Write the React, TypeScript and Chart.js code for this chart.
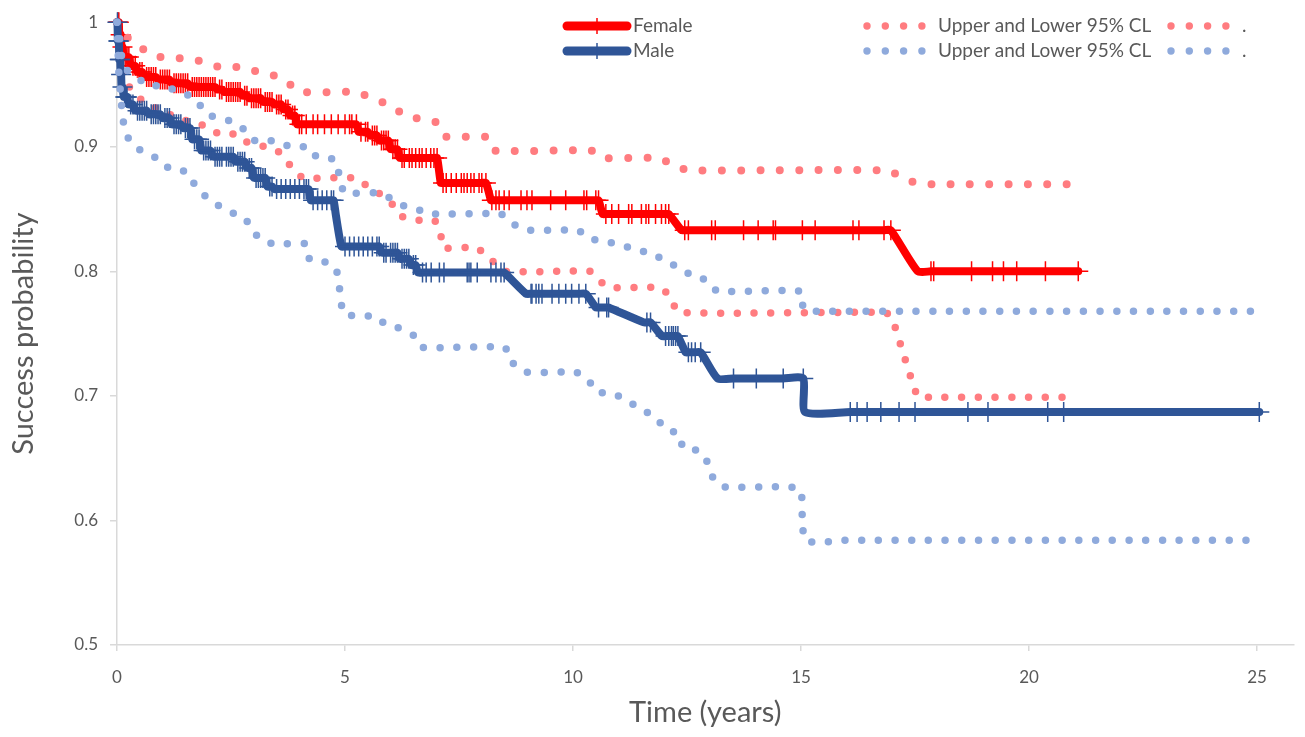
import React, { useEffect, useRef } from "react";
import { Chart, registerables } from "chart.js";

Chart.register(...registerables);

// ---------- DATA ----------
// Kaplan-Meier step nodes (time in years, survival after event)
const femaleEventT = [0, 0.05, 0.1, 0.15, 0.3, 0.45, 0.6, 0.9, 1.2, 1.6, 2.2, 2.35, 2.75, 2.9, 3.2, 3.45, 3.65, 3.8, 3.95, 5.3, 5.55, 5.75, 6.0, 6.2, 7.1, 8.2, 10.65, 12.38, 17.56];
const femaleEventS = [1.0, 0.99, 0.98, 0.972, 0.965, 0.96, 0.956, 0.954, 0.951, 0.948, 0.946, 0.944, 0.941, 0.939, 0.936, 0.934, 0.93, 0.925, 0.918, 0.912, 0.909, 0.905, 0.898, 0.891, 0.871, 0.857, 0.846, 0.833, 0.8];
const femaleCensorT = [
  0.02, 0.04, 0.08, 0.12, 0.18, 0.22, 0.26, 0.35, 0.4, 0.5, 0.55, 0.65, 0.7, 0.75, 0.8, 0.85, 0.95, 1.0, 1.05, 1.1, 1.15, 1.25, 1.3, 1.35, 1.4, 1.45, 1.5, 1.55,
  1.65, 1.7, 1.75, 1.8, 1.85, 1.9, 1.95, 2.0, 2.05, 2.1, 2.15, 2.25, 2.3, 2.4, 2.45, 2.5, 2.55, 2.6, 2.65, 2.7, 2.8, 2.85, 2.95, 3.0, 3.05, 3.1, 3.15, 3.25,
  3.3, 3.35, 3.4, 3.5, 3.55, 3.6, 3.7, 3.75, 3.85, 3.9, 4.0, 4.05, 4.15, 4.3, 4.4, 4.55, 4.7, 4.85, 5.0, 5.1, 5.15, 5.25, 5.35, 5.45, 5.5, 5.6, 5.65, 5.7,
  5.8, 5.85, 5.9, 5.95, 6.05, 6.1, 6.15, 6.25, 6.3, 6.41, 6.47, 6.55, 6.63, 6.69, 6.78, 6.88, 6.95, 7.02,
  7.15, 7.22, 7.33, 7.44, 7.55, 7.61, 7.68, 7.76, 7.83, 7.94, 8.0, 8.09,
  8.22, 8.31, 8.38, 8.49, 8.6, 8.86, 8.99, 9.1, 9.51, 9.84, 10.24, 10.3, 10.5, 10.56,
  10.72, 10.85, 11.0, 11.22, 11.29, 11.5, 11.6, 11.66, 11.81, 11.94, 12.03, 12.1,
  12.45, 12.53, 13.04, 13.12, 13.74, 14.06, 14.39, 14.44, 15.03, 15.31, 16.14, 16.27, 16.82, 16.97,
  17.85, 17.91, 18.74, 19.2, 19.44, 19.73, 20.36, 21.08,
];

const maleEventT = [0, 0.02, 0.05, 0.08, 0.1, 0.15, 0.25, 0.4, 0.7, 1.0, 1.2, 1.45, 1.65, 1.85, 2.1, 2.6, 2.85, 3.0, 3.3, 3.45, 4.25, 4.8, 4.92, 5.8, 6.2, 6.45, 6.6, 8.97, 10.5, 11.55, 11.95, 12.47, 13.17, 15.09];
const maleEventS = [1.0, 0.985, 0.97, 0.958, 0.948, 0.94, 0.934, 0.929, 0.926, 0.923, 0.918, 0.915, 0.906, 0.897, 0.892, 0.888, 0.883, 0.875, 0.868, 0.866, 0.857, 0.845, 0.82, 0.815, 0.81, 0.805, 0.799, 0.782, 0.771, 0.759, 0.748, 0.735, 0.714, 0.687];
const maleCensorT = [
  0.01, 0.03, 0.04, 0.06, 0.07, 0.09, 0.12, 0.18, 0.2, 0.22, 0.3, 0.35, 0.45, 0.5, 0.55, 0.6, 0.65, 0.75, 0.8, 0.85, 0.9, 0.95, 1.05, 1.1, 1.15, 1.25, 1.3,
  1.35, 1.4, 1.5, 1.55, 1.6, 1.7, 1.75, 1.8, 1.9, 1.95, 2.0, 2.05, 2.15, 2.2, 2.25, 2.3, 2.4, 2.45, 2.5, 2.55, 2.65, 2.7, 2.75, 2.8, 2.9, 2.95, 3.05, 3.1,
  3.15, 3.2, 3.25, 3.35, 3.4, 3.5, 3.6, 3.7, 3.8, 3.9, 4.0, 4.1, 4.15, 4.2, 4.3, 4.4, 4.5, 4.6, 4.7, 4.75,
  5.0, 5.1, 5.2, 5.3, 5.4, 5.5, 5.6, 5.7, 5.75, 5.85, 5.9, 6.0, 6.05, 6.1, 6.15, 6.25, 6.3, 6.35, 6.4, 6.5, 6.55,
  6.7, 6.78, 6.89, 7.07, 7.17, 7.68, 7.72, 7.76, 7.9, 8.2, 8.31, 8.42, 8.49,
  9.08, 9.1, 9.19, 9.25, 9.32, 9.54, 9.69, 9.84, 9.97, 10.13, 10.28,
  10.56, 10.74, 10.78, 11.62, 11.7, 12.03, 12.1, 12.16, 12.2, 12.25, 12.3, 12.53, 12.6, 12.68, 12.8,
  13.52, 14.02, 14.61, 15.05, 16.08, 16.23, 16.45, 16.75, 17.15, 17.5, 18.66, 19.1, 20.41, 20.76, 25.05,
];

// 95% confidence limits
const femaleUpperT = [0, 0.15, 0.46, 0.72, 1.12, 1.55, 1.9, 2.25, 2.67, 3.0, 3.38, 3.7, 4.0, 5.25, 5.64, 6.04, 6.3, 6.69, 7.05, 7.22, 8.07, 8.22, 10.4, 10.63, 11.9, 12.23, 12.62, 16.9, 17.3, 17.6, 18.0, 21.0];
const femaleUpperS = [1.0, 0.99, 0.982, 0.974, 0.971, 0.971, 0.968, 0.964, 0.964, 0.961, 0.958, 0.953, 0.944, 0.944, 0.938, 0.933, 0.925, 0.922, 0.919, 0.908, 0.908, 0.897, 0.897, 0.891, 0.891, 0.884, 0.881, 0.881, 0.874, 0.87, 0.87, 0.87];
const femaleLowerT = [0, 0.08, 0.2, 0.45, 0.9, 1.42, 2.0, 2.25, 2.63, 2.84, 3.13, 3.46, 3.67, 3.85, 4.09, 5.23, 5.5, 5.82, 6.06, 6.26, 6.59, 6.96, 7.1, 7.14, 7.88, 8.12, 8.53, 10.37, 10.59, 10.8, 11.92, 12.14, 12.31, 16.85, 17.0, 17.56, 17.8, 20.93];
const femaleLowerS = [1.0, 0.97, 0.952, 0.94, 0.93, 0.922, 0.916, 0.91, 0.91, 0.904, 0.901, 0.898, 0.892, 0.882, 0.875, 0.875, 0.868, 0.861, 0.853, 0.844, 0.841, 0.841, 0.83, 0.819, 0.819, 0.812, 0.8, 0.8, 0.792, 0.787, 0.787, 0.779, 0.767, 0.767, 0.762, 0.699, 0.699, 0.699];
const maleUpperT = [0, 0.07, 0.1, 0.21, 0.43, 0.69, 1.04, 1.34, 1.66, 1.85, 2.05, 2.38, 2.65, 2.84, 3.02, 3.37, 3.7, 4.06, 4.22, 4.55, 4.81, 4.88, 4.99, 5.73, 6.04, 6.32, 6.65, 6.96, 8.42, 8.68, 9.01, 10.1, 10.39, 10.72, 11.07, 11.42, 11.77, 12.05, 12.36, 12.62, 12.93, 13.17, 15.0, 15.05, 15.35, 24.95];
const maleUpperS = [1.0, 0.985, 0.973, 0.962, 0.956, 0.949, 0.949, 0.944, 0.94, 0.932, 0.925, 0.922, 0.918, 0.912, 0.905, 0.905, 0.901, 0.901, 0.893, 0.893, 0.888, 0.875, 0.863, 0.863, 0.858, 0.852, 0.849, 0.846, 0.846, 0.838, 0.833, 0.833, 0.826, 0.824, 0.821, 0.817, 0.814, 0.807, 0.803, 0.796, 0.793, 0.784, 0.784, 0.77, 0.768, 0.768];
const maleLowerT = [0, 0.04, 0.07, 0.1, 0.14, 0.21, 0.41, 0.65, 0.94, 1.16, 1.51, 1.68, 1.87, 2.05, 2.34, 2.58, 2.82, 2.96, 3.15, 3.42, 4.14, 4.22, 4.53, 4.79, 4.86, 4.9, 4.97, 5.3, 5.66, 5.9, 6.23, 6.52, 6.69, 8.5, 8.66, 8.97, 10.06, 10.33, 10.52, 10.87, 11.2, 11.5, 11.81, 12.03, 12.31, 12.42, 12.75, 12.93, 13.06, 13.28, 14.74, 15.0, 15.03, 15.09, 15.44, 15.81, 25.0];
const maleLowerS = [1.0, 0.96, 0.946, 0.933, 0.92, 0.909, 0.9, 0.894, 0.89, 0.882, 0.88, 0.871, 0.863, 0.856, 0.851, 0.846, 0.842, 0.833, 0.826, 0.822, 0.822, 0.81, 0.808, 0.803, 0.793, 0.779, 0.766, 0.764, 0.764, 0.757, 0.754, 0.748, 0.739, 0.739, 0.727, 0.719, 0.719, 0.713, 0.703, 0.702, 0.696, 0.689, 0.683, 0.673, 0.67, 0.658, 0.656, 0.648, 0.635, 0.627, 0.627, 0.624, 0.597, 0.584, 0.582, 0.584, 0.584];

const xTickStep = 5;
const yTickStep = 0.1;
const xMax = 25.8;
const yMin = 0.5;
const yMax = 1;

const labels = {
  female: "Female",
  male: "Male",
  upper: "Upper and Lower 95% CL",
  lower: ".",
  xTitle: "Time (years)",
  yTitle: "Success probability",
};

// ---------- STYLE ----------
const RED = "#FF0000";
const BLUE = "#2F5597";
const RED_CL = "#FF7C80";
const BLUE_CL = "#8FAADC";
const TEXT = "#595959";
const AXIS = "#D9D9D9";
const FONT = "Lato, 'Open Sans', sans-serif";

type Pt = { x: number; y: number; c: boolean };

function buildKM(eventT: number[], eventS: number[], censorT: number[]): Pt[] {
  const pts: Pt[] = eventT.map((t, i) => ({ x: t, y: eventS[i], c: false }));
  censorT.forEach((t) => {
    let s = 1;
    for (let i = 0; i < eventT.length; i++) if (eventT[i] <= t) s = eventS[i];
    pts.push({ x: t, y: s, c: true });
  });
  pts.sort((a, b) => a.x - b.x);
  return pts;
}

function zip(t: number[], s: number[]) {
  return t.map((x, i) => ({ x, y: s[i] }));
}

const legendPlugin = {
  id: "excelLegend",
  afterDraw(chart: any) {
    const ctx = chart.ctx;
    const ds = chart.data.datasets;
    // legend layout: rows = [female, male], columns = [line, upper CL, lower CL]
    const rows = [
      [ds[5], ds[4], ds[3]],
      [ds[2], ds[1], ds[0]],
    ];
    const rowY = [26, 51];
    const colX = [563, 867, 1171];
    ctx.save();
    ctx.font = `19px ${FONT}`;
    ctx.textBaseline = "middle";
    ctx.fillStyle = TEXT;
    rows.forEach((row, r) => {
      const y = rowY[r];
      row.forEach((d: any, c: number) => {
        const x0 = colX[c];
        if (c === 0) {
          ctx.strokeStyle = d.borderColor;
          ctx.lineWidth = 9;
          ctx.lineCap = "round";
          ctx.beginPath();
          ctx.moveTo(x0 + 4, y);
          ctx.lineTo(x0 + 64, y);
          ctx.stroke();
          ctx.lineWidth = 1.5;
          ctx.lineCap = "butt";
          ctx.beginPath();
          ctx.moveTo(x0 + 34, y - 8);
          ctx.lineTo(x0 + 34, y + 8);
          ctx.stroke();
          ctx.fillStyle = TEXT;
          ctx.fillText(d.label, x0 + 70, y);
        } else {
          ctx.fillStyle = d.borderColor;
          for (let k = 0; k < 4; k++) {
            ctx.beginPath();
            ctx.arc(x0 + k * 18.3, y, 3.7, 0, Math.PI * 2);
            ctx.fill();
          }
          ctx.fillStyle = TEXT;
          ctx.fillText(d.label, x0 + 71, y);
        }
      });
    });
    ctx.restore();
  },
};

export default function App() {
  const ref = useRef<HTMLCanvasElement | null>(null);

  useEffect(() => {
    if (!ref.current) return;
    const female = buildKM(femaleEventT, femaleEventS, femaleCensorT);
    const male = buildKM(maleEventT, maleEventS, maleCensorT);

    const kmDataset = (label: string, data: Pt[], color: string) => ({
      label,
      data,
      borderColor: color,
      backgroundColor: color,
      borderWidth: 8,
      borderCapStyle: "round",
      borderJoinStyle: "round",
      tension: 0.2,
      pointStyle: "cross",
      pointRadius: (c: any) => (c.raw && c.raw.c ? 10 : 0),
      pointBorderColor: color,
      pointBorderWidth: 1.5,
      pointHoverRadius: 0,
      clip: false,
    });
    const clDataset = (label: string, data: any[], color: string, gap: number, w: number) => ({
      label,
      data,
      borderColor: color,
      backgroundColor: color,
      borderWidth: w,
      borderDash: [0, gap],
      borderCapStyle: "round",
      tension: 0.15,
      pointRadius: 0,
      pointHoverRadius: 0,
      clip: false,
    });

    const chart = new Chart(ref.current, {
      type: "line",
      data: {
        datasets: [
          clDataset(labels.lower, zip(maleLowerT, maleLowerS), BLUE_CL, 16.7, 7.5),
          clDataset(labels.upper, zip(maleUpperT, maleUpperS), BLUE_CL, 16.7, 7.5),
          kmDataset(labels.male, male, BLUE),
          clDataset(labels.lower, zip(femaleLowerT, femaleLowerS), RED_CL, 16.7, 7.5),
          clDataset(labels.upper, zip(femaleUpperT, femaleUpperS), RED_CL, 19.3, 8),
          kmDataset(labels.female, female, RED),
        ] as any,
      },
      options: {
        responsive: false,
        animation: false,
        events: [],
        layout: { padding: { top: 15, right: 8, left: 0, bottom: 0 } },
        plugins: { legend: { display: false }, tooltip: { enabled: false } },
        scales: {
          x: {
            type: "linear",
            min: 0,
            max: xMax,
            afterFit: (s: any) => {
              s.height = 92;
            },
            ticks: {
              stepSize: xTickStep,
              includeBounds: false,
              padding: 16,
              color: TEXT,
              font: { family: FONT, size: 17 },
              maxRotation: 0,
            },
            grid: { drawOnChartArea: false, drawTicks: true, tickLength: 6, color: AXIS, lineWidth: 1.5 },
            border: { color: AXIS, width: 1.5 },
            title: {
              display: true,
              text: labels.xTitle,
              color: TEXT,
              font: { family: FONT, size: 29 },
              padding: { top: 0, bottom: 7 },
            },
          },
          y: {
            type: "linear",
            min: yMin,
            max: yMax,
            afterFit: (s: any) => {
              s.width = 117;
            },
            ticks: {
              stepSize: yTickStep,
              padding: 12,
              color: TEXT,
              font: { family: FONT, size: 17 },
              callback: (v: any) => String(Math.round(Number(v) * 10) / 10),
            },
            grid: { drawOnChartArea: false, drawTicks: true, tickLength: 7, color: AXIS, lineWidth: 1.5 },
            border: { color: AXIS, width: 1.5 },
            title: {
              display: true,
              text: labels.yTitle,
              color: TEXT,
              font: { family: FONT, size: 29 },
              padding: { top: 6, bottom: 0 },
            },
          },
        },
      } as any,
      plugins: [legendPlugin],
    });
    return () => chart.destroy();
  }, []);

  return (
    <div style={{ position: "fixed", left: 0, top: 0, width: 1305, height: 737, background: "#fff" }}>
      <canvas ref={ref} width={1305} height={737} style={{ display: "block" }} />
    </div>
  );
}
